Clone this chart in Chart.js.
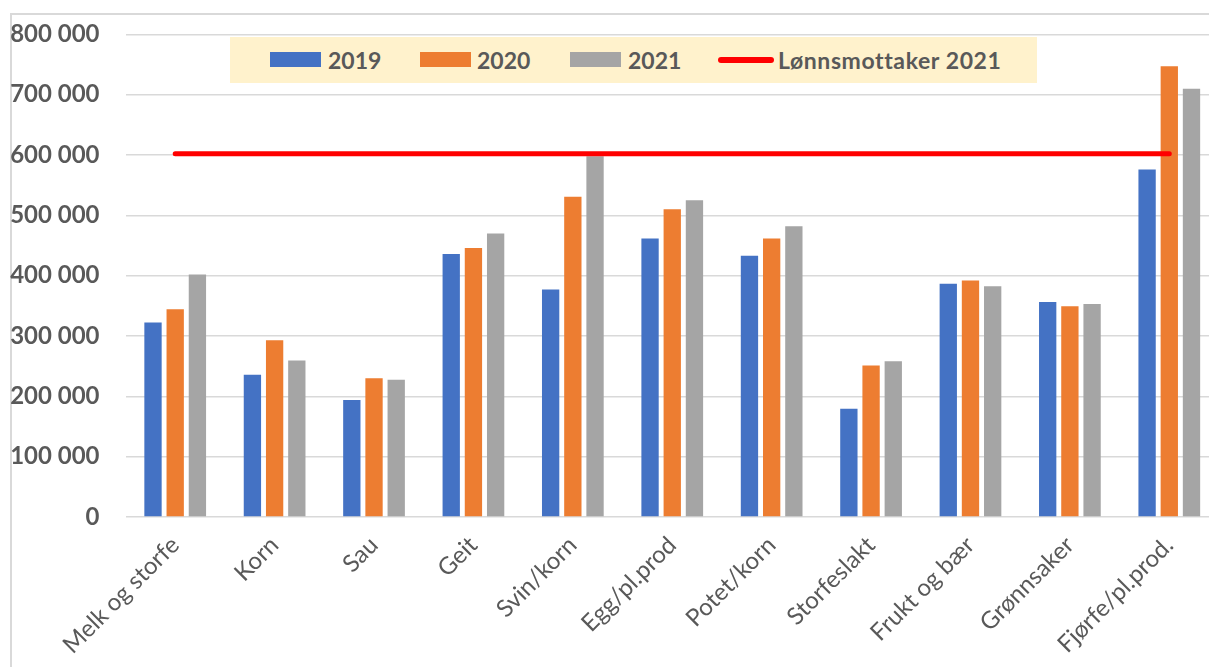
<!DOCTYPE html>
<html>
<head>
<meta charset="utf-8">
<script src="https://cdn.jsdelivr.net/npm/chart.js@4.4.1/dist/chart.umd.min.js"></script>
<style>
  html, body { margin: 0; padding: 0; width: 1209px; height: 667px; overflow: hidden; background: #fff; }
  #frame { position: absolute; left: 10px; top: 13px; width: 1300px; height: 800px; border: 2px solid #d9d9d9; box-sizing: border-box; }
  #wrap { position: absolute; left: 0; top: -6px; width: 1240px; height: 700px; }
  #legend { position: absolute; left: 230px; top: 37px; width: 807px; height: 46px; background: #FFF2CC;
            font-family: Lato, "Open Sans", sans-serif; font-weight: bold; font-size: 23px; color: #595959; }
  .item { position: absolute; top: 0; height: 46px; line-height: 46px; white-space: nowrap; }
  .sw { position: absolute; top: 15px; width: 51px; height: 15px; }
  .ln { position: absolute; top: 20px; width: 56px; height: 6px; border-radius: 3px; background: #FF0000; }
</style>
</head>
<body>
<div id="frame"></div>
<div id="wrap"><canvas id="c" width="1240" height="700"></canvas></div>
<div id="legend"></div>
<script>
const categories = ["Melk og storfe","Korn","Sau","Geit","Svin/korn","Egg/pl.prod","Potet/korn","Storfeslakt","Frukt og bær","Grønnsaker","Fjørfe/pl.prod."];
const series2019 = [322500, 236000, 194000, 436000, 377000, 461500, 433000, 179500, 386500, 356500, 576000];
const series2020 = [344500, 293000, 230000, 446000, 531000, 510000, 461500, 251000, 392000, 349500, 747000];
const series2021 = [402000, 259500, 227500, 470000, 598000, 525000, 482000, 258000, 382500, 353000, 710000];
const lonnsmottaker2021 = [602000, 602000, 602000, 602000, 602000, 602000, 602000, 602000, 602000, 602000, 602000];
const seriesNames = ["2019", "2020", "2021", "Lønnsmottaker 2021"];
const yTickLabels = ["0", "100 000", "200 000", "300 000", "400 000", "500 000", "600 000", "700 000", "800 000"];

const colors = ["#4472C4", "#ED7D31", "#A5A5A5", "#FF0000"];

// HTML legend
const legend = document.getElementById('legend');
const legendPos = [[40, 98], [190, 247], [340, 398], [488, 548]];
seriesNames.forEach((name, i) => {
  const it = document.createElement('div');
  it.className = 'item';
  it.style.left = legendPos[i][0] + 'px';
  const sw = document.createElement('div');
  if (i < 3) { sw.className = 'sw'; sw.style.background = colors[i]; }
  else { sw.className = 'ln'; }
  sw.style.left = '0px';
  it.appendChild(sw);
  const t = document.createElement('span');
  t.textContent = name;
  t.style.position = 'absolute';
  t.style.left = (legendPos[i][1] - legendPos[i][0]) + 'px';
  if (i === 3) t.style.letterSpacing = '0.6px';
  it.appendChild(t);
  legend.appendChild(it);
});

const barCommon = { categoryPercentage: 0.67, barPercentage: 0.78, order: 1, borderWidth: 0 };

new Chart(document.getElementById('c'), {
  type: 'bar',
  data: {
    labels: categories,
    datasets: [
      Object.assign({ label: seriesNames[0], data: series2019, backgroundColor: colors[0] }, barCommon),
      Object.assign({ label: seriesNames[1], data: series2020, backgroundColor: colors[1] }, barCommon),
      Object.assign({ label: seriesNames[2], data: series2021, backgroundColor: colors[2] }, barCommon),
      { type: 'line', label: seriesNames[3], data: lonnsmottaker2021, borderColor: colors[3], backgroundColor: colors[3],
        borderWidth: 5, borderCapStyle: 'round', pointRadius: 0, pointHoverRadius: 0, fill: false, order: 0 }
    ]
  },
  options: {
    responsive: false,
    animation: false,
    events: [],
    layout: { padding: { left: 0, right: 21, top: 28, bottom: 0 } },
    plugins: { legend: { display: false }, tooltip: { enabled: false } },
    scales: {
      x: {
        grid: { display: false, drawTicks: false },
        border: { display: false },
        ticks: {
          autoSkip: false, maxRotation: 45, minRotation: 45, padding: 14,
          color: '#595959', font: { family: 'Lato, "Open Sans", sans-serif', size: 24 }
        },
        afterFit(scale) { scale.height = 177; }
      },
      y: {
        min: 0, max: 800000,
        grid: { color: '#D9D9D9', lineWidth: 1.5, drawTicks: false },
        border: { display: false },
        ticks: {
          stepSize: 100000, padding: 26, color: '#595959',
          font: { family: 'Lato, "Open Sans", sans-serif', size: 24, weight: 'bold' },
          callback: (v) => yTickLabels[Math.round(v / 100000)]
        },
        afterFit(scale) { scale.width = 125.5; }
      }
    }
  }
});
</script>
</body>
</html>
